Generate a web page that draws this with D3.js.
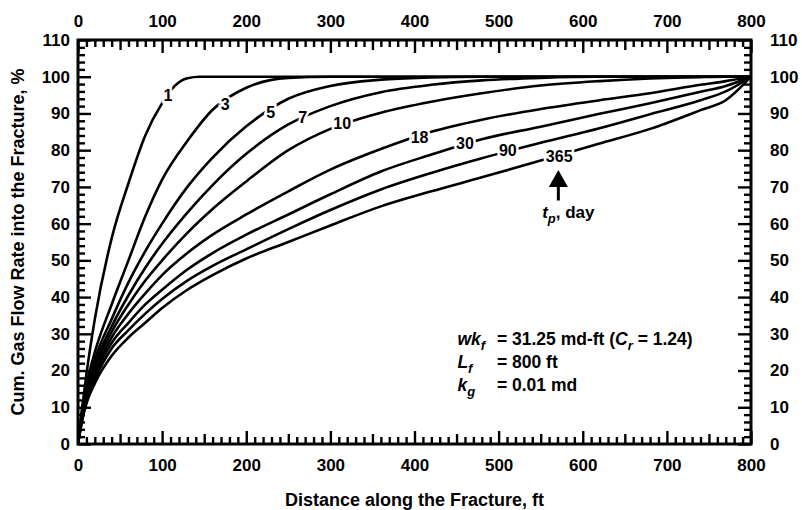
<!DOCTYPE html>
<html>
<head>
<meta charset="utf-8">
<script src="https://cdn.jsdelivr.net/npm/d3@7"></script>
<style>
  html, body { margin: 0; padding: 0; background: #fff; }
  svg { display: block; font-family: "Liberation Sans", Arial, sans-serif; font-weight: bold; }
</style>
</head>
<body>
<svg id="chart" width="802" height="510"></svg>
<script>
// ---------------- data ----------------
const xTickLabels = [0, 100, 200, 300, 400, 500, 600, 700, 800];
const yTickLabels = [0, 10, 20, 30, 40, 50, 60, 70, 80, 90, 100, 110];
const curveNames = ["1", "3", "5", "7", "10", "18", "30", "90", "365"];

const xGrid = [0, 5, 10, 20, 40, 60, 80, 100, 130, 160, 200, 250, 300, 360, 420, 480, 550, 620, 680, 740, 770, 800];
const c1x = [0, 5, 10, 20, 40, 60, 80, 100, 115, 130, 145, 800];
const c1 = [0, 10, 19, 34, 56, 71, 84, 92.8, 97.5, 99.6, 100, 100];
const c3 = [0, 9.5, 16, 25, 38, 50, 62, 72, 82.5, 91, 97, 99.7, 100, 100, 100, 100, 100, 100, 100, 100, 100, 100];
const c5 = [0, 8.5, 14.5, 23, 34, 44, 52.5, 60, 70, 78, 86.5, 94, 97.5, 99.2, 99.8, 100, 100, 100, 100, 100, 100, 100];
const c7 = [0, 8, 13.5, 21.5, 32, 40.5, 48, 54.5, 63, 70.5, 79, 87, 92, 95.8, 97.8, 99, 99.7, 100, 100, 100, 100, 100];
const c10 = [0, 7.5, 13, 20.5, 30.5, 38, 44.5, 50, 57.5, 64, 71.5, 80, 85.8, 90.2, 93.2, 95.5, 97.6, 98.8, 99.5, 99.9, 100, 100];
const c18 = [0, 7.2, 12.5, 19.5, 29, 35.5, 41, 46, 52, 57, 62.5, 68.8, 74.7, 80.3, 85, 88.3, 91.2, 93.6, 95.5, 97.8, 98.8, 100];
const c30 = [0, 7, 12, 18.5, 27.5, 33, 38, 42, 47.5, 52, 57, 62.5, 68, 74.2, 78.8, 83, 86.4, 89.9, 92.8, 95.9, 97.5, 100];
const c90 = [0, 6.8, 11.5, 17.5, 26, 31, 35.5, 39.5, 44.5, 48.5, 53, 58.5, 63.7, 69.3, 73.8, 77.8, 82, 86, 89.8, 93.6, 96, 100];
const c365 = [0, 6.5, 11, 16.5, 24, 29, 33, 37, 42, 46, 50.5, 55, 59.5, 64.7, 68.8, 72.6, 77.2, 81.8, 85.8, 90.9, 93.6, 100];

// label anchor positions (data units) for each curve label
const labelX = [107, 175, 229, 267, 314, 406, 460, 511, 572];
const labelY = [95, 92.6, 90.3, 89, 87.2, 83.6, 82, 80, 78.3];

// annotation values (data units)
const arrowX = 571, arrowTipY = 74.6, arrowBaseY = 66.3;
const tpLabelY = 61.5;
const paramX = 451, paramEqX = 498;
const paramY = [26.9, 20.6, 14.4];

// ---------------- chart ----------------
const svg = d3.select("#chart");
const x = d3.scaleLinear().domain([0, 800]).range([78, 751]);
const y = d3.scaleLinear().domain([0, 110]).range([444, 40]);

const xMinor = d3.range(0, 801, 10).filter(v => v % 50 !== 0);
const xMid = d3.range(50, 800, 100);
const yMinor = d3.range(0, 111, 2).filter(v => v % 10 !== 0);

function styleAxis(g, fs) {
  g.select(".domain").remove();
  g.selectAll(".tick line").attr("stroke", "#000").attr("stroke-width", 2.4);
  g.selectAll(".tick text").attr("fill", "#000").style("font-size", fs + "px").style("font-weight", "bold")
    .style("font-family", '"Liberation Sans", Arial, sans-serif');
}

// bottom
svg.append("g").attr("transform", `translate(0,${y(0)})`)
  .call(d3.axisBottom(x).tickValues(xMinor).tickSize(-7).tickFormat("")).call(g => styleAxis(g, 17));
svg.append("g").attr("transform", `translate(0,${y(0)})`)
  .call(d3.axisBottom(x).tickValues(xMid).tickSize(-10).tickFormat("")).call(g => styleAxis(g, 17));
svg.append("g").attr("transform", `translate(0,${y(0)})`)
  .call(d3.axisBottom(x).tickValues(xTickLabels).tickSizeInner(-13).tickSizeOuter(0).tickPadding(15).tickFormat(d3.format("d")))
  .call(g => styleAxis(g, 17));
// top
svg.append("g").attr("transform", `translate(0,${y(110)})`)
  .call(d3.axisTop(x).tickValues(xMinor).tickSize(-7).tickFormat("")).call(g => styleAxis(g, 17));
svg.append("g").attr("transform", `translate(0,${y(110)})`)
  .call(d3.axisTop(x).tickValues(xMid).tickSize(-10).tickFormat("")).call(g => styleAxis(g, 17));
svg.append("g").attr("transform", `translate(0,${y(110)})`)
  .call(d3.axisTop(x).tickValues(xTickLabels).tickSizeInner(-13).tickSizeOuter(0).tickPadding(13).tickFormat(d3.format("d")))
  .call(g => styleAxis(g, 17));
// left
svg.append("g").attr("transform", `translate(${x(0)},0)`)
  .call(d3.axisLeft(y).tickValues(yMinor).tickSize(-7).tickFormat("")).call(g => styleAxis(g, 17));
svg.append("g").attr("transform", `translate(${x(0)},0)`)
  .call(d3.axisLeft(y).tickValues(yTickLabels).tickSizeInner(-13).tickSizeOuter(0).tickPadding(8).tickFormat(d3.format("d")))
  .call(g => styleAxis(g, 17));
// right
svg.append("g").attr("transform", `translate(${x(800)},0)`)
  .call(d3.axisRight(y).tickValues(yMinor).tickSize(-7).tickFormat("")).call(g => styleAxis(g, 17));
svg.append("g").attr("transform", `translate(${x(800)},0)`)
  .call(d3.axisRight(y).tickValues(yTickLabels).tickSizeInner(-13).tickSizeOuter(0).tickPadding(19).tickFormat(d3.format("d")))
  .call(g => styleAxis(g, 17));

// frame
svg.append("rect")
  .attr("x", x(0)).attr("y", y(110))
  .attr("width", x(800) - x(0)).attr("height", y(0) - y(110))
  .attr("fill", "none").attr("stroke", "#000").attr("stroke-width", 3);

// curves
const series = [
  { xs: c1x, ys: c1 },
  { xs: xGrid, ys: c3 },
  { xs: xGrid, ys: c5 },
  { xs: xGrid, ys: c7 },
  { xs: xGrid, ys: c10 },
  { xs: xGrid, ys: c18 },
  { xs: xGrid, ys: c30 },
  { xs: xGrid, ys: c90 },
  { xs: xGrid, ys: c365 }
];
const line = d3.line().x(d => x(d[0])).y(d => y(d[1])).curve(d3.curveMonotoneX);
svg.append("clipPath").attr("id", "plotclip").append("rect")
  .attr("x", x(0)).attr("y", y(110)).attr("width", x(800) - x(0)).attr("height", y(0) - y(110));
svg.append("g").attr("clip-path", "url(#plotclip)")
  .selectAll("path").data(series).join("path")
  .attr("d", s => line(s.xs.map((v, i) => [v, s.ys[i]])))
  .attr("fill", "none").attr("stroke", "#000").attr("stroke-width", 2.6).attr("stroke-linejoin", "round");

// curve labels
svg.append("g").selectAll("text").data(curveNames).join("text")
  .attr("x", (d, i) => x(labelX[i])).attr("y", (d, i) => y(labelY[i]))
  .attr("dy", "0.36em").attr("text-anchor", "middle")
  .style("font-size", "16px").style("paint-order", "stroke")
  .attr("stroke", "#fff").attr("stroke-width", 5).attr("fill", "#000")
  .text(d => d);

// arrow t_p
svg.append("path")
  .attr("d", `M${x(arrowX)},${y(arrowTipY)} L${x(arrowX) + 9.5},${y(arrowTipY) + 17} L${x(arrowX) - 9.5},${y(arrowTipY) + 17} Z`)
  .attr("fill", "#000");
svg.append("line")
  .attr("x1", x(arrowX)).attr("x2", x(arrowX))
  .attr("y1", y(arrowTipY) + 16).attr("y2", y(arrowBaseY))
  .attr("stroke", "#000").attr("stroke-width", 3);
const tp = svg.append("text").attr("x", x(arrowX) + 10).attr("y", y(tpLabelY))
  .attr("text-anchor", "middle").style("font-size", "17px");
tp.append("tspan").style("font-style", "italic").text("t");
tp.append("tspan").style("font-style", "italic").style("font-size", "13px").attr("dy", 5).text("p");
tp.append("tspan").attr("dy", -5).text(", day");

// parameter block
const pg = svg.append("g").style("font-size", "17.5px");
function nameText(yv, main, sub) {
  const t = pg.append("text").attr("x", x(paramX)).attr("y", y(yv));
  t.append("tspan").style("font-style", "italic").text(main);
  t.append("tspan").style("font-style", "italic").style("font-size", "13px").attr("dy", 5).text(sub);
}
nameText(paramY[0], "wk", "f");
nameText(paramY[1], "L", "f");
nameText(paramY[2], "k", "g");
const t1 = pg.append("text").attr("x", x(paramEqX)).attr("y", y(paramY[0]));
t1.append("tspan").text("= 31.25 md-ft (");
t1.append("tspan").style("font-style", "italic").text("C");
t1.append("tspan").style("font-style", "italic").style("font-size", "13px").attr("dy", 5).text("r");
t1.append("tspan").attr("dy", -5).text(" = 1.24)");
pg.append("text").attr("x", x(paramEqX)).attr("y", y(paramY[1])).text("= 800 ft");
pg.append("text").attr("x", x(paramEqX)).attr("y", y(paramY[2])).text("= 0.01 md");

// axis titles
svg.append("text").attr("x", (x(0) + x(800)) / 2).attr("y", 506)
  .attr("text-anchor", "middle").style("font-size", "18px")
  .text("Distance along the Fracture, ft");
svg.append("text").attr("transform", `translate(24,${(y(0) + y(110)) / 2}) rotate(-90)`)
  .attr("text-anchor", "middle").style("font-size", "18px")
  .text("Cum. Gas Flow Rate into the Fracture, %");
</script>
</body>
</html>
